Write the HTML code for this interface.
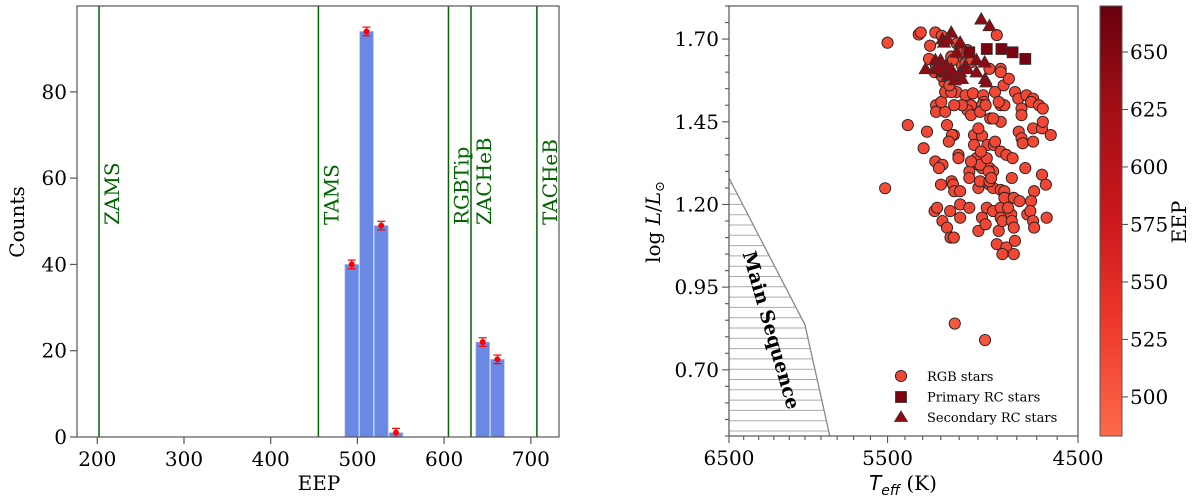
<!DOCTYPE html>
<html><head><meta charset="utf-8"><style>
body{margin:0;background:#fff}
svg{display:block}
text{font-family:"DejaVu Serif","Liberation Serif",serif}
</style></head><body>
<svg id="fig" width="1200" height="500" viewBox="0 0 1200 500" xmlns="http://www.w3.org/2000/svg">
<defs>
<linearGradient id="cbar" x1="0" y1="1" x2="0" y2="0">
<stop offset="0" stop-color="#fb6a4a"/><stop offset="0.25" stop-color="#ef3b2c"/><stop offset="0.5" stop-color="#cb181d"/><stop offset="0.75" stop-color="#a50f15"/><stop offset="1" stop-color="#67000d"/>
</linearGradient>
<clipPath id="clipR"><rect x="729" y="6" width="349" height="430"/></clipPath>
</defs>
<g id="left"></g>
<g id="right"></g>
<g id="cb"></g>
</svg>
<script>
// ---------- Left histogram data ----------
const binStarts = [485, 502, 519, 536, 636, 653];
const binWidth = 17;
const counts = [40, 94, 49, 1, 22, 18];
const countErr = [1, 1, 1, 1, 1, 1];
const phaseNames = ["ZAMS", "TAMS", "RGBTip", "ZACHeB", "TACHeB"];
const phaseEEP = [202, 455, 605, 631, 707];
const xTicksL = [200, 300, 400, 500, 600, 700];
const yTicksL = [0, 20, 40, 60, 80];

// ---------- Right HR diagram data ----------
const rgbTeff = [5500,5514,5384,5322,5311,5230,5195,5259,5265,5226,5234,5180,5182,5195,5226,5226,5176,5197,5276,5166,5129,5139,5156,5295,5230,5191,5210,5104,5104,5199,5141,5133,5127,5095,5046,5046,5014,4998,4979,4998,4989,4940,4921,4940,4921,4882,4863,4825,4757,4674,4655,4713,5234,5220,5191,5166,5147,5129,5095,5095,5149,5046,4998,4979,4960,4954,4921,4882,4863,4892,4882,4873,4828,4825,4815,4815,4786,4728,4747,4732,4718,4713,4651,4902,4853,4809,4873,4815,5124,4963,
5114,5066,5027,4973,4969,4911,4867,4840,4809,4792,4751,4718,4728,4689,4670,4776,4776,4882,4863,4892,4882,4936,4921,4979,5037,5056,5037,4989,5085,5127,5176,5143,4960,5021,4979,4998,4950,4917,4911,4882,4853,4821,4790,4776,4770,4718,4718,4674,4670,4631,5021,5008,4989,4944,5037,4954,4985,4940,4931,4844,
5143,5133,5095,5085,5066,5037,5153,5114,4940,4882,4882,4902,5114,5056];
const rgbLogL = [1.689,1.249,1.44,1.714,1.72,1.72,1.71,1.68,1.64,1.62,1.60,1.569,1.596,1.588,1.50,1.48,1.48,1.51,1.42,1.44,1.41,1.41,1.39,1.37,1.33,1.32,1.31,1.35,1.34,1.26,1.27,1.26,1.24,1.24,1.30,1.28,1.33,1.32,1.31,1.25,1.27,1.31,1.30,1.26,1.25,1.244,1.24,1.28,1.31,1.29,1.26,1.24,1.18,1.19,1.15,1.13,1.10,1.10,1.20,1.16,1.18,1.19,1.12,1.16,1.14,1.19,1.18,1.19,1.22,1.12,1.16,1.15,1.17,1.15,1.13,1.22,1.21,1.21,1.17,1.18,1.15,1.13,1.16,1.08,1.07,1.09,1.05,1.05,0.84,0.79,
1.54,1.53,1.536,1.53,1.51,1.54,1.56,1.58,1.54,1.52,1.53,1.52,1.51,1.50,1.49,1.49,1.47,1.50,1.50,1.51,1.45,1.46,1.46,1.50,1.50,1.485,1.47,1.48,1.50,1.50,1.54,1.54,1.50,1.41,1.408,1.43,1.38,1.38,1.39,1.36,1.35,1.34,1.42,1.40,1.385,1.39,1.43,1.43,1.45,1.41,1.38,1.34,1.32,1.30,1.33,1.34,1.36,1.27,1.28,1.19,
1.647,1.637,1.657,1.62,1.627,1.63,1.56,1.58,1.61,1.61,1.60,1.712,1.687,1.667];
const rgbEEP = rgbLogL.map(function(){return 518;});
rgbEEP[88] = 500; rgbEEP[89] = 504; rgbEEP[1] = 510; rgbEEP[0] = 512;
const primTeff = [5046,4954,4878,4821,4757];
const primLogL = [1.66,1.67,1.67,1.66,1.64];
const primEEP = [655,656,656,657,658];
const secTeff = [4983,4940,5143,5191,5182,5162,5095,5114,5230,5201,5284,5230,5210,5191,5172,5162,5133,5095,5085,5066,5008,5008,4965,4963,4956,5124,5172,5143,5056,5210];
const secLogL = [1.76,1.74,1.72,1.70,1.69,1.70,1.69,1.66,1.637,1.637,1.61,1.61,1.61,1.60,1.60,1.59,1.60,1.60,1.58,1.62,1.637,1.60,1.63,1.58,1.57,1.576,1.62,1.61,1.61,1.617];
const secEEP = secTeff.map(function(){return 640;});
const msTeff = [6500, 6000, 5845];
const msLogL = [1.28, 0.836, 0.5];
const xTicksR = [6500, 5500, 4500];
const yTicksR = [0.70, 0.95, 1.20, 1.45, 1.70];
const cbTicks = [500, 525, 550, 575, 600, 625, 650];

const NS = "http://www.w3.org/2000/svg";
function mk(parent, tag, attrs, txt){
  const e = document.createElementNS(NS, tag);
  for (const k in attrs) e.setAttribute(k, attrs[k]);
  if (txt !== undefined) e.textContent = txt;
  parent.appendChild(e); return e;
}

// ---------- Left chart ----------
const L = document.getElementById('left');
const lx0=77, lx1=559, ly0=6, ly1=437, xmin=176.6, xmax=732.5, ymax=99.9;
const xL = v => lx0 + (v - xmin) / (xmax - xmin) * (lx1 - lx0);
const yL = v => ly1 - v / ymax * (ly1 - ly0);
counts.forEach((c,i)=>{
  const r = mk(L,'rect',{x:xL(binStarts[i])+0.5,y:yL(c),width:xL(binStarts[i]+binWidth)-xL(binStarts[i])-1,height:yL(0)-yL(c),fill:'#6a89e4',stroke:'#a9baf0','stroke-width':0.6});
  
  
});
counts.forEach((c,i)=>{
  const cx = xL(binStarts[i]+binWidth/2);
  const g = mk(L,'g',{});
  
  
  mk(g,'line',{x1:cx,x2:cx,y1:yL(c+countErr[i]),y2:yL(c-countErr[i]),stroke:'#ff0000','stroke-width':1.2});
  mk(g,'line',{x1:cx-4,x2:cx+4,y1:yL(c+countErr[i]),y2:yL(c+countErr[i]),stroke:'#ff0000','stroke-width':1.2});
  mk(g,'line',{x1:cx-4,x2:cx+4,y1:yL(c-countErr[i]),y2:yL(c-countErr[i]),stroke:'#ff0000','stroke-width':1.2});
  mk(g,'circle',{cx:cx,cy:yL(c),r:3,fill:'#ff0000'});
});
phaseEEP.forEach((v,i)=>{
  const x = xL(v);
  const ln = mk(L,'line',{x1:x,x2:x,y1:ly0,y2:ly1,stroke:'#006400','stroke-width':1.5});
  
  
  const t = mk(L,'text',{x:0,y:0,transform:'translate('+(x+20)+',225) rotate(-90)','font-size':20,fill:'#006400'},phaseNames[i]);
  
  
});
mk(L,'rect',{x:lx0,y:ly0,width:lx1-lx0,height:ly1-ly0,fill:'none',stroke:'#555','stroke-width':1.2});
xTicksL.forEach(v=>{
  const x=xL(v);
  mk(L,'line',{x1:x,x2:x,y1:ly1,y2:ly1+7,stroke:'#555','stroke-width':1.2});
  const t=mk(L,'text',{x:x,y:ly1+29,'text-anchor':'middle','font-size':20},String(v));
  
  
});
yTicksL.forEach(v=>{
  const y=yL(v);
  mk(L,'line',{x1:lx0-7,x2:lx0,y1:y,y2:y,stroke:'#555','stroke-width':1.2});
  const t=mk(L,'text',{x:lx0-10,y:y+7,'text-anchor':'end','font-size':20},String(v));
  
  
});
const xtl=mk(L,'text',{x:319,y:490,'text-anchor':'middle','font-size':20},'EEP');


const ytl=mk(L,'text',{x:0,y:0,transform:'translate(24,222) rotate(-90)','text-anchor':'middle','font-size':20},'Counts');



// ---------- Right chart ----------
const R = document.getElementById('right');
const rx0=729, rx1=1078, ry0=6, ry1=436, Tmax=6500, Tmin=4500, Lmin=0.5, Lmax=1.8;
const xR = T => rx0 + (Math.log10(Tmax) - Math.log10(T)) / (Math.log10(Tmax) - Math.log10(Tmin)) * (rx1 - rx0);
const yR = v => ry1 - (v - Lmin) / (Lmax - Lmin) * (ry1 - ry0);
const cmin=483, cmax=670;
const stops=[[0,[251,106,74]],[0.25,[239,59,44]],[0.5,[203,24,29]],[0.75,[165,15,21]],[1,[103,0,13]]];
function cmap(v){
  let f=Math.max(0,Math.min(1,(v-cmin)/(cmax-cmin)));
  for(let i=0;i<stops.length-1;i++){
    if(f<=stops[i+1][0]){const a=stops[i],b=stops[i+1];const t=(f-a[0])/(b[0]-a[0]);
      return 'rgb('+a[1].map((c,k)=>Math.round(c+(b[1][k]-c)*t)).join(',')+')';}
  }
  return 'rgb(103,0,13)';
}
// main sequence region
const msG = mk(R,'g',{'clip-path':'url(#clipR)'});


const msPts = msTeff.map((T,i)=>[xR(T),yR(msLogL[i])]);
const polyPts = [[xR(Tmax),yR(msLogL[0])]].concat(msPts.slice(1)).concat([[xR(Tmax),yR(Lmin)]]);
const clipMS = mk(document.querySelector('defs'),'clipPath',{id:'msclip'});
mk(clipMS,'polygon',{points:polyPts.map(p=>p.join(',')).join(' ')});
const hatch = mk(msG,'g',{'clip-path':'url(#msclip)'});
for(let y=ry1-5; y>ry0; y-=10.3){ mk(hatch,'line',{x1:rx0,x2:rx0+150,y1:y,y2:y,stroke:'#aaa','stroke-width':1}); }
mk(msG,'polyline',{points:msPts.map(p=>p.join(',')).join(' '),fill:'none',stroke:'#888','stroke-width':1.3});
const mst=mk(R,'text',{x:0,y:0,transform:'translate(765,332) rotate(74)','text-anchor':'middle','font-size':19,'font-weight':'bold'},'Main Sequence');


// points
const pts = mk(R,'g',{'clip-path':'url(#clipR)'});
rgbTeff.forEach((T,i)=>{
  const c=mk(pts,'circle',{cx:xR(T),cy:yR(rgbLogL[i]),r:5.6,fill:cmap(rgbEEP[i]),stroke:'#222','stroke-width':0.9});
  
  
});
secTeff.forEach((T,i)=>{
  const x=xR(T), y=yR(secLogL[i]), s=6.5;
  const p=mk(pts,'polygon',{points:[x,y-s,x+s,y+s*0.75,x-s,y+s*0.75].join(' ').replace(/(\S+) (\S+)/g,'$1,$2'),fill:cmap(secEEP[i]),stroke:'#333','stroke-width':0.8});
  
  
});
primTeff.forEach((T,i)=>{
  const x=xR(T), y=yR(primLogL[i]);
  const r=mk(pts,'rect',{x:x-5.5,y:y-5.5,width:11,height:11,fill:cmap(primEEP[i]),stroke:'#333','stroke-width':0.8});
  
  
});
mk(R,'rect',{x:rx0,y:ry0,width:rx1-rx0,height:ry1-ry0,fill:'none',stroke:'#555','stroke-width':1.2});
for(let T=6500; T>=4500; T-=100){
  const x=xR(T), major = xTicksR.indexOf(T)>=0;
  mk(R,'line',{x1:x,x2:x,y1:ry1,y2:ry1+(major?7:4),stroke:'#555','stroke-width':1.1});
}
xTicksR.forEach(T=>{
  const t=mk(R,'text',{x:xR(T),y:ry1+29,'text-anchor':'middle','font-size':20},String(T));
  
  
});
for(let k=0;k<=26;k++){
  const v=Lmin+k*0.05; if(v>Lmax+1e-6) break;
  const major = yTicksR.some(t=>Math.abs(t-v)<1e-6);
  mk(R,'line',{x1:rx0-(major?7:4),x2:rx0,y1:yR(v),y2:yR(v),stroke:'#555','stroke-width':1.1});
}
yTicksR.forEach(v=>{
  const t=mk(R,'text',{x:rx0-10,y:yR(v)+7,'text-anchor':'end','font-size':20},v.toFixed(2));
  
  
});
const rxt=mk(R,'text',{x:903,y:490,'text-anchor':'middle','font-size':20});
rxt.innerHTML='<tspan font-style="italic" font-family="DejaVu Sans, sans-serif">T</tspan><tspan font-style="italic" font-family="DejaVu Sans, sans-serif" font-size="14" dy="5">eff</tspan><tspan dy="-5"> (K)</tspan>';


const ryt=mk(R,'text',{x:0,y:0,transform:'translate(660,222) rotate(-90)','text-anchor':'middle','font-size':20,'font-family':'DejaVu Sans, sans-serif'});
ryt.innerHTML='log <tspan font-style="italic">L</tspan>/<tspan font-style="italic">L</tspan><tspan font-size="13" dy="4">⊙</tspan>';


// legend
const lg=mk(R,'g',{});


mk(lg,'circle',{cx:901,cy:376,r:5.6,fill:cmap(518),stroke:'#222','stroke-width':0.9});
mk(lg,'rect',{x:895.5,y:391.5,width:11,height:11,fill:cmap(656),stroke:'#333','stroke-width':0.8});
mk(lg,'polygon',{points:'901,411 907.5,421.5 894.5,421.5',fill:cmap(640),stroke:'#333','stroke-width':0.8});
['RGB stars','Primary RC stars','Secondary RC stars'].forEach((s,i)=>{
  const t=mk(lg,'text',{x:927,y:381+i*20.5,'font-size':13},s);
  
  
});

// ---------- Colorbar ----------
const C=document.getElementById('cb');
const cx0=1100,cx1=1122;
const yC = v => ry1 - (v-cmin)/(cmax-cmin)*(ry1-ry0);
mk(C,'rect',{x:cx0,y:ry0,width:cx1-cx0,height:ry1-ry0,fill:'url(#cbar)',stroke:'#555','stroke-width':1});
cbTicks.forEach(v=>{
  mk(C,'line',{x1:cx1,x2:cx1+6,y1:yC(v),y2:yC(v),stroke:'#555','stroke-width':1.1});
  const t=mk(C,'text',{x:cx1+8,y:yC(v)+7,'font-size':20},String(v));
  
  
});
const cbl=mk(C,'text',{x:0,y:0,transform:'translate(1186,222) rotate(-90)','text-anchor':'middle','font-size':20},'EEP');


</script>
</body></html>
